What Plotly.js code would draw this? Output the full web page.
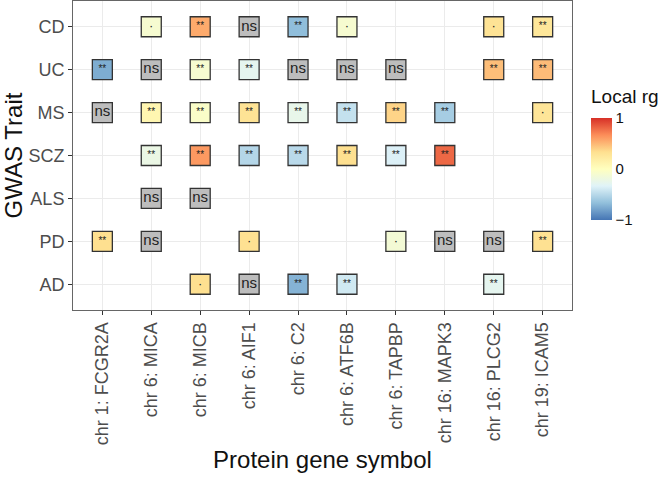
<!DOCTYPE html>
<html><head><meta charset="utf-8">
<script src="https://cdn.plot.ly/plotly-3.0.1.min.js"></script>
<style>html,body{margin:0;padding:0;background:#fff}#chart{width:666px;height:479px}</style>
</head><body><div id="chart"></div>
<script>
// Categories
const proteins = ["chr 1: FCGR2A","chr 6: MICA","chr 6: MICB","chr 6: AIF1","chr 6: C2","chr 6: ATF6B","chr 6: TAPBP","chr 16: MAPK3","chr 16: PLCG2","chr 19: ICAM5"];
const traits = ["AD","PD","ALS","SCZ","MS","UC","CD"]; // bottom to top

// Cells: protein, trait, local rg (null = not significant), significance label
const cellProtein = [
  "chr 6: MICA","chr 6: MICB","chr 6: AIF1","chr 6: C2","chr 6: ATF6B","chr 16: PLCG2","chr 19: ICAM5",
  "chr 1: FCGR2A","chr 6: MICA","chr 6: MICB","chr 6: AIF1","chr 6: C2","chr 6: ATF6B","chr 6: TAPBP","chr 16: PLCG2","chr 19: ICAM5",
  "chr 1: FCGR2A","chr 6: MICA","chr 6: MICB","chr 6: AIF1","chr 6: C2","chr 6: ATF6B","chr 6: TAPBP","chr 16: MAPK3","chr 19: ICAM5",
  "chr 6: MICA","chr 6: MICB","chr 6: AIF1","chr 6: C2","chr 6: ATF6B","chr 6: TAPBP","chr 16: MAPK3",
  "chr 6: MICA","chr 6: MICB",
  "chr 1: FCGR2A","chr 6: MICA","chr 6: AIF1","chr 6: TAPBP","chr 16: MAPK3","chr 16: PLCG2","chr 19: ICAM5",
  "chr 6: MICB","chr 6: AIF1","chr 6: C2","chr 6: ATF6B","chr 16: PLCG2"
];
const cellTrait = [
  "CD","CD","CD","CD","CD","CD","CD",
  "UC","UC","UC","UC","UC","UC","UC","UC","UC",
  "MS","MS","MS","MS","MS","MS","MS","MS","MS",
  "SCZ","SCZ","SCZ","SCZ","SCZ","SCZ","SCZ",
  "ALS","ALS",
  "PD","PD","PD","PD","PD","PD","PD",
  "AD","AD","AD","AD","AD"
];
const cellRg = [
  -0.10, 0.55, null, -0.67, -0.10, 0.30, 0.26,
  -0.75, null, -0.10, -0.28, null, null, null, 0.47, 0.48,
  null, 0.10, -0.05, 0.30, -0.25, -0.45, 0.38, -0.58, 0.28,
  -0.22, 0.62, -0.52, -0.50, 0.33, -0.35, 0.80,
  null, null,
  0.33, null, 0.32, -0.13, null, null, 0.32,
  0.33, null, -0.72, -0.40, -0.28
];
const cellSig = [
  "·","**","ns","**","·","·","**",
  "**","ns","**","**","ns","ns","ns","**","**",
  "ns","**","**","**","**","**","**","**","·",
  "**","**","**","**","**","**","**",
  "ns","ns",
  "**","ns","·","·","ns","ns","**",
  "·","ns","**","**","**"
];
const legendTitle = "Local rg";

const sigX=[],sigY=[],sigV=[],sigT=[],sigS=[];
const nsX=[],nsY=[],nsT=[];
cellProtein.forEach((p,i)=>{
  if(cellRg[i]===null){nsX.push(p);nsY.push(cellTrait[i]);nsT.push(cellSig[i]);}
  else{sigX.push(p);sigY.push(cellTrait[i]);sigV.push(cellRg[i]);sigT.push(cellSig[i]);sigS.push(cellSig[i]==="·"?13:10);}
});

const rdylbu = [[0,'#4575b4'],[1/6,'#91bfdb'],[2/6,'#e0f3f8'],[0.5,'#ffffbf'],[4/6,'#fee090'],[5/6,'#fc8d59'],[1,'#d73027']];
const FONT = 'Liberation Sans, Arial, sans-serif';

const traces = [
  {type:'scatter',mode:'markers+text',x:nsX,y:nsY,text:nsT,textposition:'middle center',
   textfont:{family:FONT,size:15,color:'#222'},
   marker:{symbol:'square',size:20,color:'#bdbdbd',line:{color:'#333',width:1.3}},
   hoverinfo:'skip',showlegend:false},
  {type:'scatter',mode:'markers+text',x:sigX,y:sigY,text:sigT,textposition:'middle center',
   textfont:{family:FONT,size:sigS,color:'#222'},
   marker:{symbol:'square',size:20,color:sigV,cmin:-1,cmax:1,colorscale:rdylbu,line:{color:'#333',width:1.3},
     colorbar:{x:1.038,xanchor:'left',y:0.456,yanchor:'middle',lenmode:'pixels',len:102,thickness:21,
       outlinewidth:0,tickvals:[-1,0,1],ticktext:['\u22121','0','1'],ticks:'',
       tickfont:{family:FONT,size:15,color:'#111'},xpad:0,ypad:0}},
   hoverinfo:'skip',showlegend:false}
];

const layout = {
  width:666,height:479,
  margin:{l:73,r:94,t:1,b:169},
  paper_bgcolor:'#fff',plot_bgcolor:'#fff',
  font:{family:FONT},
  xaxis:{type:'category',categoryorder:'array',categoryarray:proteins,range:[-0.6,9.6],
    tickangle:-90,tickfont:{size:18,color:'#4d4d4d'},ticks:'outside',ticklen:4,tickcolor:'#333',
    showgrid:true,gridcolor:'#ebebeb',gridwidth:1,showline:true,linecolor:'#666',mirror:true,zeroline:false,
    title:{text:'Protein gene symbol',font:{size:24,color:'#111'},standoff:6},automargin:false},
  yaxis:{type:'category',categoryorder:'array',categoryarray:traits,range:[-0.6,6.6],
    tickfont:{size:18,color:'#4d4d4d'},ticks:'outside',ticklen:4,tickcolor:'#333',
    showgrid:true,gridcolor:'#ebebeb',gridwidth:1,showline:true,linecolor:'#666',mirror:true,zeroline:false,
    title:{text:'GWAS Trait',font:{size:24,color:'#111'},standoff:4},automargin:false},
  annotations:[{text:legendTitle,xref:'paper',yref:'paper',x:1.034,xanchor:'left',y:0.692,yanchor:'middle',
    showarrow:false,font:{family:FONT,size:19,color:'#111'}}]
};

Plotly.newPlot('chart',traces,layout,{staticPlot:true,displayModeBar:false});
</script>
</body></html>
